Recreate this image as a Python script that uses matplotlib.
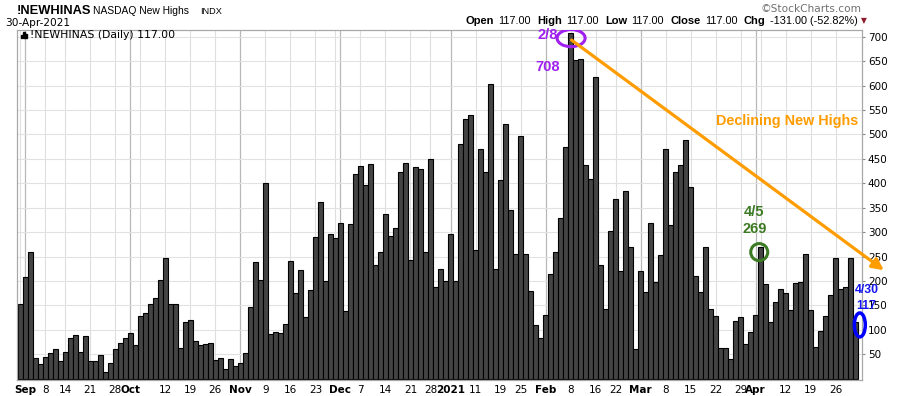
import numpy as np
import pandas as pd
import matplotlib
matplotlib.use('Agg')
import matplotlib.pyplot as plt
from matplotlib.patches import Ellipse, Rectangle

# trading days shown (NYSE holidays removed)
holidays = ['2020-09-07', '2020-11-26', '2020-12-25', '2021-01-01',
            '2021-01-18', '2021-02-15', '2021-04-02']
days = pd.bdate_range('2020-08-28', '2021-04-30')
days = days[~days.isin(pd.to_datetime(holidays))]

# daily NASDAQ new highs
aug = [141, 152]
sep = [209, 259, 42, 31, 45, 53, 61, 37, 55, 83, 90, 55, 88, 37, 37, 49, 14, 32, 61, 74, 83]
oct_ = [94, 69, 128, 135, 152, 165, 202, 246, 152, 153, 63, 116, 120, 77, 69, 71, 74, 38, 42, 20, 40, 25]
nov = [32, 53, 146, 238, 203, 401, 91, 96, 93, 111, 240, 175, 222, 126, 181, 291, 361, 199, 296, 287]
dec = [319, 139, 316, 418, 436, 396, 439, 233, 259, 338, 293, 309, 424, 442, 242, 433, 430, 259, 449, 188, 224, 199]
jan = [297, 199, 480, 532, 540, 263, 470, 424, 603, 225, 406, 521, 345, 255, 496, 255, 179, 110, 83]
feb = [130, 214, 259, 328, 474, 708, 652, 654, 437, 408, 617, 232, 142, 302, 368, 221, 384, 269, 60]
mar = [221, 177, 319, 198, 253, 470, 314, 423, 437, 488, 392, 210, 177, 269, 142, 128, 62, 62, 40, 118, 126, 70, 95]
apr = [130, 269, 194, 115, 157, 183, 176, 140, 195, 197, 255, 140, 64, 98, 128, 171, 246, 184, 187, 248, 117]
values = aug + sep + oct_ + nov + dec + jan + feb + mar + apr

tick_dates = ['2020-09-01', '2020-09-08', '2020-09-14', '2020-09-21', '2020-09-28',
              '2020-10-01', '2020-10-12', '2020-10-19', '2020-10-26',
              '2020-11-02', '2020-11-09', '2020-11-16', '2020-11-23',
              '2020-12-01', '2020-12-07', '2020-12-14', '2020-12-21', '2020-12-28',
              '2021-01-04', '2021-01-11', '2021-01-19', '2021-01-25',
              '2021-02-01', '2021-02-08', '2021-02-16', '2021-02-22',
              '2021-03-01', '2021-03-08', '2021-03-15', '2021-03-22', '2021-03-29',
              '2021-04-01', '2021-04-12', '2021-04-19', '2021-04-26']
tick_labels = ['Sep', '8', '14', '21', '28', 'Oct', '12', '19', '26',
               'Nov', '9', '16', '23', 'Dec', '7', '14', '21', '28',
               '2021', '11', '19', '25', 'Feb', '8', '16', '22',
               'Mar', '8', '15', '22', '29', 'Apr', '12', '19', '26']
month_labels = ['Sep', 'Oct', 'Nov', 'Dec', '2021', 'Feb', 'Mar', 'Apr']

ORANGE = '#ff9c00'
PURPLE = '#a020f0'
GREEN = '#3c7a23'
BLUE = '#1414f0'

x = np.arange(len(days))

fig = plt.figure(figsize=(9, 3.96), dpi=100)
ax = fig.add_axes([16.7 / 900, 16 / 396, (862.3 - 16.7) / 900, (380 - 29.5) / 396])

# grid: weekly lines light, month lines darker
for i in range(1, len(days)):
    new_month = days[i].month != days[i - 1].month
    new_week = days[i].isocalendar()[1] != days[i - 1].isocalendar()[1]
    if new_month:
        ax.axvline(i, color='#b8b8b8', lw=0.9, zorder=0)
    elif new_week:
        ax.axvline(i, color='#dedede', lw=0.8, zorder=0)
for v in range(50, 701, 50):
    ax.axhline(v, color='#e2e2e2', lw=0.8, zorder=0)

ax.bar(x, values, width=1.0, color='#444444', edgecolor='black', linewidth=0.8, zorder=2)

ax.set_xlim(0.3, 169.3)
ax.set_ylim(-2.7, 714.7)

tick_pos = [days.get_loc(pd.Timestamp(d)) for d in tick_dates]
ax.set_xticks(tick_pos)
ax.set_xticklabels(tick_labels, fontsize=7.5, family='DejaVu Sans')
for lab in ax.get_xticklabels():
    if lab.get_text() in month_labels:
        lab.set_fontweight('bold')
ax.tick_params(axis='x', length=0, pad=3.5)

ax.yaxis.tick_right()
ax.set_yticks(range(50, 701, 50))
ax.tick_params(axis='y', labelsize=7.5, length=2.5, pad=1.5, color='#888888')

for s in ax.spines.values():
    s.set_color('#a8a8a8')
    s.set_linewidth(0.9)

# legend line inside the plot
for k, h in enumerate([0.55, 1.0, 0.75]):
    ax.add_patch(Rectangle((0.0045 + k * 0.0028, 0.975), 0.0022, 0.018 * h,
                           transform=ax.transAxes, color='black', clip_on=False, zorder=5))
ax.text(0.0155, 0.975, '!NEWHINAS (Daily) 117.00', transform=ax.transAxes,
        fontsize=7.8, va='baseline', ha='left', zorder=5)

# annotations
ax.text(106.5, 703, '2/8', color=PURPLE, fontsize=10.5, fontweight='bold',
        ha='center', va='center', family='Liberation Sans')
ax.text(106.5, 638, '708', color=PURPLE, fontsize=10.5, fontweight='bold',
        ha='center', va='center', family='Liberation Sans')
ax.add_patch(Ellipse((111.1, 697), 5.6, 35, fill=False, ec=PURPLE, lw=2.2, zorder=4))

ax.annotate('', xy=(173.6, 222), xytext=(111.2, 693), annotation_clip=False,
            arrowprops=dict(arrowstyle='-|>', color=ORANGE, lw=2.3, mutation_scale=17,
                            shrinkA=0, shrinkB=0), zorder=4)
ax.text(154.3, 527, 'Declining New Highs', color=ORANGE, fontsize=10.4, fontweight='bold',
        ha='center', va='center', family='Liberation Sans')

ax.text(147.7, 341, '4/5', color=GREEN, fontsize=10.5, fontweight='bold',
        ha='center', va='center', family='Liberation Sans')
ax.text(147.7, 306, '269', color=GREEN, fontsize=10.5, fontweight='bold',
        ha='center', va='center', family='Liberation Sans')
ax.add_patch(Ellipse((148.7, 259), 3.4, 35, fill=False, ec=GREEN, lw=2.2, zorder=4))

ax.text(170.3, 181, '4/30', color=BLUE, fontsize=8.8, fontweight='bold',
        ha='center', va='center', family='Liberation Sans', clip_on=False)
ax.text(170.0, 148, '117', color=BLUE, fontsize=8.8, fontweight='bold',
        ha='center', va='center', family='Liberation Sans', clip_on=False)
ax.add_patch(Ellipse((168.8, 110), 2.2, 49, fill=False, ec='#0000ff', lw=2.5,
                     zorder=4, clip_on=False))

# header
fig.text(17 / 900, 1 - 13.5 / 396, '!NEWHINAS', fontsize=9.3, fontweight='bold',
         family='Liberation Sans', va='baseline')
fig.text(93 / 900, 1 - 13.5 / 396, 'NASDAQ New Highs', fontsize=7.4,
         family='Liberation Sans', va='baseline')
fig.text(200 / 900, 1 - 13.5 / 396, 'INDX', fontsize=6.6,
         family='Liberation Sans', va='baseline')
fig.text(5 / 900, 1 - 26 / 396, '30-Apr-2021', fontsize=7.6, va='baseline')
fig.text(862 / 900, 1 - 12 / 396, '\u00a9StockCharts.com', fontsize=7.6,
         color='#707070', ha='right', va='baseline')

parts = [('Open', 'bold'), ('117.00', 'normal'), ('High', 'bold'), ('117.00', 'normal'),
         ('Low', 'bold'), ('117.00', 'normal'), ('Close', 'bold'), ('117.00', 'normal'),
         ('Chg', 'bold'), ('-131.00 (-52.82%)', 'normal')]
prev = fig.text(466 / 900, 1 - 26 / 396, parts[0][0], fontsize=8, fontweight='bold',
                family='Liberation Sans', va='bottom')
for txt, w in parts[1:]:
    gap = 2.8 if w == 'normal' else 4.8
    prev = plt.annotate(txt, xy=(1, 0), xycoords=prev, xytext=(gap, 0),
                        textcoords='offset points',
                        fontsize=8 if w == 'bold' else 7.8, fontweight=w,
                        family='Liberation Sans', va='bottom', ha='left',
                        annotation_clip=False)
plt.annotate('\u25bc', xy=(1, 0), xycoords=prev, xytext=(2.5, 0.5), textcoords='offset points',
             fontsize=5.5, color='#8b1a2b', va='bottom', ha='left', annotation_clip=False)

fig.savefig('out.png', dpi=100)
